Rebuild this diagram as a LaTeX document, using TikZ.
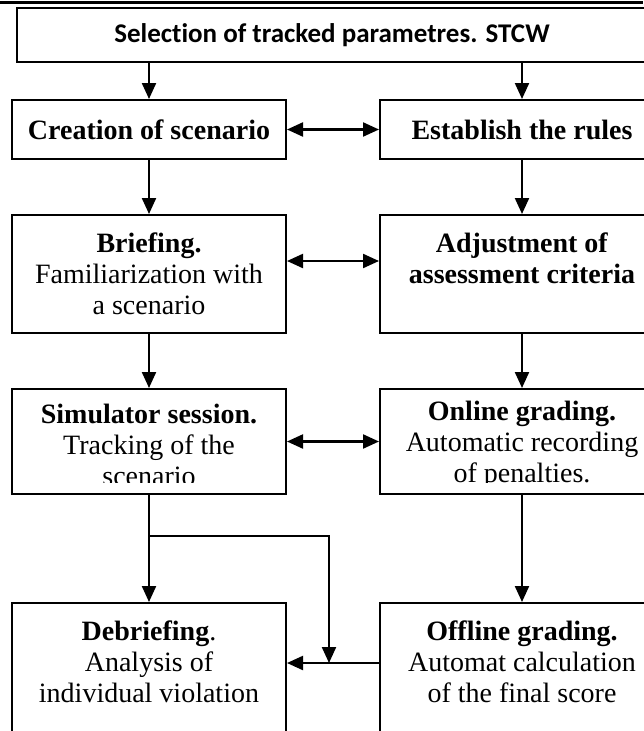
\documentclass[tikz,border=0pt]{standalone}
\usepackage{fontspec}
\setmainfont{Liberation Serif}
\newfontfamily\headfont[Ligatures=CommonOff]{Carlito}
\usetikzlibrary{arrows.meta, positioning}

\tikzset{
  box/.style={draw, line width=2pt, inner sep=0pt},
  txt/.style={align=center, inner sep=0pt, font=\fontsize{28}{31}\selectfont},
  arr/.style={line width=2.2pt, -{Triangle[length=16pt,width=14pt]}},
  darr/.style={line width=2.2pt, {Triangle[length=16pt,width=14pt]}-{Triangle[length=16pt,width=14pt]}},
}

\begin{document}
\begin{tikzpicture}[x=1pt, y=-1pt]
  \useasboundingbox (0,0) rectangle (643,731);
  \draw[line width=3pt] (0,2) -- (643,2);

  % boxes: name / centre x / centre y / width / height
  \foreach \n/\x/\y/\w/\h in {crea/149/129.5/274/59, rules/522/129.5/284/59,
      brief/149/274/274/118, adj/522/274/284/118,
      sim/149/441.5/274/105, on/522/441.5/284/105,
      deb/149/681.5/274/157, off/522/681.5/284/157}
    \node[box, minimum width=\w pt, minimum height=\h pt] (\n) at (\x,\y) {};

  \node[box, minimum width=630pt, minimum height=54pt,
        font=\headfont\bfseries\fontsize{27}{30}\selectfont] (sel) at (332,35)
    {Selection of tracked parametres. STCW};

  \node[txt] (creatxt) at (crea) {\textbf{Creation of scenario}};
  \node[txt] (rulestxt) at (rules) {\textbf{Establish the rules}};
  \node[txt] (brieftxt) at (149,274) {\textbf{Briefing.}\\Familiarization with\\a scenario};
  \node[txt] (adjtxt) at (522,258.5) {\textbf{Adjustment of}\\\textbf{assessment criteria}};
  \begin{scope}
    \clip (sim.north west) rectangle ([yshift=13pt]sim.south east);
    \node[txt] (simtxt) at (149,445) {\textbf{Simulator session.}\\Tracking of the\\scenario};
  \end{scope}
  \begin{scope}
    \clip (on.north west) rectangle ([yshift=13pt]on.south east);
    \node[txt] (ontxt) at (522,445) {\textbf{Online grading.}\\Automatic recording\\of penalties.};
  \end{scope}
  \node[txt] (debtxt) at (149,661.5) {\textbf{Debriefing}.\\Analysis of\\individual violation};
  \node[txt] (offtxt) at (522,661.5) {\textbf{Offline grading.}\\Automat calculation\\of the final score};

  % connectors
  \coordinate (ar2) at (0,261);
  \coordinate (fork) at (149,536);
  \coordinate (join) at (329,663);
  \draw[arr] (crea.north |- sel.south) -- (crea.north);
  \draw[arr] (rules.north |- sel.south) -- (rules.north);
  \draw[darr] (crea) -- (rules);
  \draw[arr] (crea) -- (brief);
  \draw[arr] (rules) -- (adj);
  \draw[darr] (brief.east |- ar2) -- (adj.west |- ar2);
  \draw[arr] (brief) -- (sim);
  \draw[arr] (adj) -- (on);
  \draw[darr] (sim) -- (on);
  \draw[arr] (sim) -- (deb);
  \draw[arr] (on) -- (off);
  \draw[arr] (fork) -| (join);
  \draw[arr] (off.west |- join) -- (deb.east |- join);
\end{tikzpicture}
\end{document}
